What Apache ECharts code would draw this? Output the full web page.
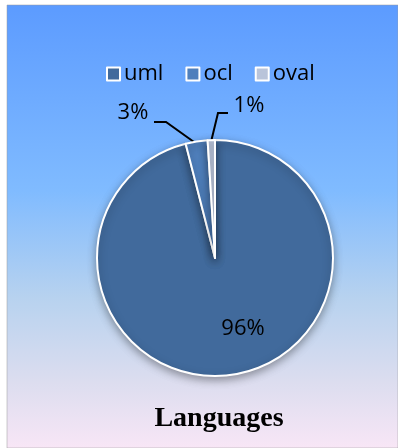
<!DOCTYPE html>
<html><head><meta charset="utf-8">
<script src="https://cdn.jsdelivr.net/npm/echarts@6/dist/echarts.min.js"></script>
<style>html,body{margin:0;padding:0;background:#fff}#c{width:398px;height:448px}</style>
</head><body><div id="c"></div>
<script>
const categories = ['uml', 'ocl', 'oval'];
const values = [96, 3, 1];
const colors = ['#416A9C', '#4F7FBC', '#B9C4DA'];
const titleText = 'Languages';

const chart = echarts.init(document.getElementById('c'), null, {renderer: 'canvas'});
const labelTargets = [
  {x: 243, y: 329},
  {x: 133, y: 113, line: [[154, 122], [166, 122], [194, 142]]},
  {x: 249, y: 106, line: [[228, 113], [218, 113], [211, 142]]}
];
chart.setOption({
  animation: false,
  graphic: [{
    type: 'rect', z: -10,
    shape: {x: 7, y: 5, width: 391, height: 443},
    style: {
      fill: new echarts.graphic.LinearGradient(0, 0, 0, 1, [
        {offset: 0, color: '#5C9BFF'},
        {offset: 0.42, color: '#80BBFF'},
        {offset: 0.66, color: '#B7D2EF'},
        {offset: 0.85, color: '#DCDDEF'},
        {offset: 1, color: '#F8E6F6'}
      ]),
      stroke: '#9A9A9A', lineWidth: 0.5
    }
  }],
  title: {
    text: titleText, left: 214, textAlign: 'center', top: 400,
    textStyle: {fontFamily: 'Liberation Serif', fontWeight: 'bold', fontSize: 28, color: '#000'}
  },
  legend: {
    data: categories, top: 58, left: 101,
    itemWidth: 13, itemHeight: 13, itemGap: 22,
    icon: 'rect',
    itemStyle: {borderColor: '#fff', borderWidth: 2},
    textStyle: {fontFamily: 'Open Sans', fontSize: 22, color: '#000', padding: [0, 0, 0, -1]}
  },
  series: [{
    type: 'pie',
    center: [215, 258],
    radius: [0, 118],
    startAngle: 90,
    clockwise: true,
    itemStyle: {borderColor: '#fff', borderWidth: 2, shadowBlur: 8, shadowOffsetY: 3, shadowColor: 'rgba(0,0,0,0.35)'},
    data: categories.map((c, i) => ({
      name: c, value: values[i], itemStyle: {color: colors[i]},
      label: i === 0 ? {position: 'inside'} : {position: 'outside'},
      labelLine: i === 0 ? {show: false} : {show: true, length: 12, length2: 10, lineStyle: {color: '#000', width: 2}}
    })),
    label: {
      formatter: '{d}%', fontFamily: 'Open Sans', fontSize: 22, color: '#000'
    },
    labelLayout: function (p) {
      const t = labelTargets[p.dataIndex];
      if (!t.line) {
        return {x: t.x, y: t.y, align: 'center', verticalAlign: 'middle', fontSize: 22};
      }
      return {x: t.x, y: t.y, align: 'center', verticalAlign: 'middle', fontSize: 22, labelLinePoints: t.line};
    }
  }]
});
</script></body></html>
